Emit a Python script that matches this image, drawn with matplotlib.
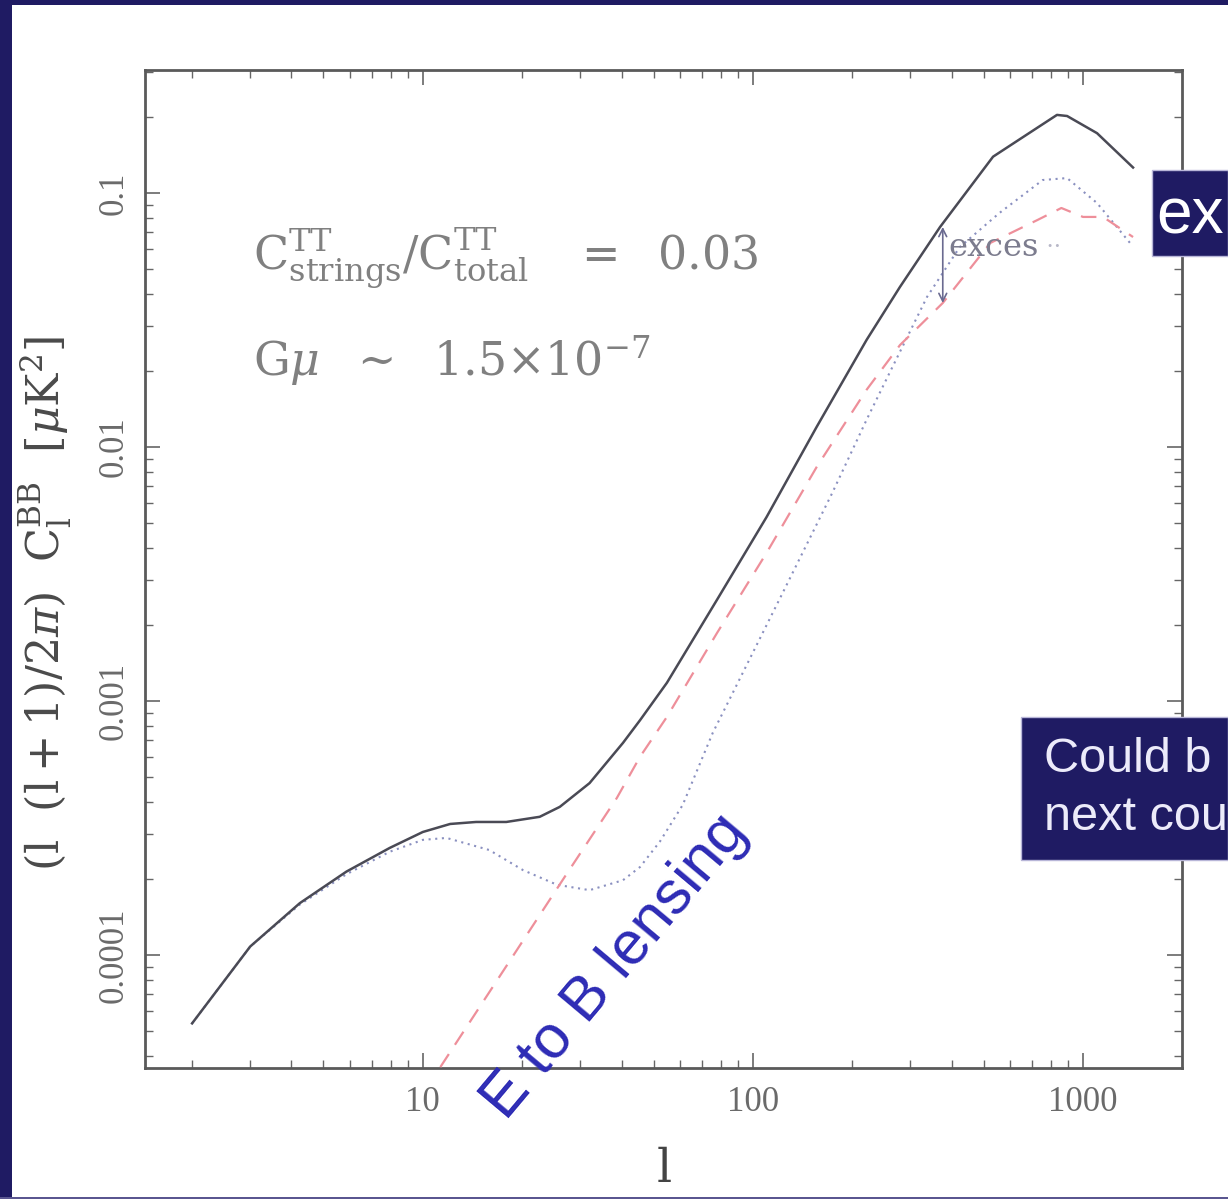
import numpy as np
import matplotlib
matplotlib.use("Agg")
import matplotlib.pyplot as plt
from matplotlib.patches import Rectangle
from matplotlib.ticker import FixedLocator, FixedFormatter, LogLocator, NullFormatter

plt.rcParams['mathtext.fontset'] = 'dejavuserif'
plt.rcParams['font.family'] = ['Liberation Serif', 'DejaVu Serif']

# ---------------- data ----------------
l_total = [2.0, 3.0, 4.24, 5.87, 7.94, 10.0, 12.1, 14.5, 17.9, 22.6, 26.0, 32.0, 40.4,
           45.5, 54.9, 77.8, 110, 156, 221, 279, 369, 534, 658, 834, 895, 1103, 1418]
c_total = [5.38e-5, 1.08e-4, 1.60e-4, 2.13e-4, 2.64e-4, 3.05e-4, 3.28e-4, 3.34e-4, 3.34e-4,
           3.50e-4, 3.83e-4, 4.75e-4, 6.84e-4, 8.4e-4, 1.18e-3, 2.5e-3, 5.3e-3,
           0.012, 0.0264, 0.0427, 0.0735, 0.139, 0.166, 0.203, 0.201, 0.172, 0.126]

l_strings = [2.0, 3.0, 4.24, 5.87, 7.94, 10.0, 11.8, 15.9, 20.1, 25.5, 32.0, 40.4,
             45.5, 52.3, 61.3, 75.6, 87, 123, 174, 221, 259, 337, 423, 558, 755, 895, 1103, 1388]
c_strings = [5.38e-5, 1.08e-4, 1.58e-4, 2.08e-4, 2.55e-4, 2.84e-4, 2.89e-4, 2.59e-4,
             2.16e-4, 1.89e-4, 1.80e-4, 1.97e-4, 2.22e-4, 2.80e-4, 3.9e-4, 7.5e-4,
             1.08e-3, 2.66e-3, 6.6e-3, 0.0128, 0.0195, 0.039, 0.0612, 0.0834, 0.1125,
             0.1145, 0.0913, 0.0636]

l_lensing = [11.3, 26.5, 38.7, 45.5, 54.9, 77.8, 110, 156, 221, 279, 376, 524,
             728, 860, 1000, 1150, 1418]
c_lensing = [3.62e-5, 1.97e-4, 4.15e-4, 6.03e-4, 8.66e-4, 1.85e-3, 3.83e-3, 8.34e-3,
             0.0168, 0.0252, 0.0369, 0.0636, 0.0783, 0.0873, 0.0805, 0.0805, 0.0671]

x_ticks = [10, 100, 1000]
x_ticklabels = ["10", "100", "1000"]
y_ticks = [1e-4, 1e-3, 1e-2, 1e-1]
y_ticklabels = ["0.0001", "0.001", "0.01", "0.1"]

excess_l = 376
excess_top = 0.0735
excess_bottom = 0.0369

# ---------------- figure ----------------
W, H = 1228, 1199
fig = plt.figure(figsize=(W / 100, H / 100), dpi=100)
fig.patch.set_facecolor('white')

navy = '#1f1b63'
fig.patches.append(Rectangle((0, 0), 12 / W, 1, transform=fig.transFigure,
                             facecolor=navy, edgecolor='none', zorder=0))
fig.patches.append(Rectangle((0, 1 - 5 / H), 1, 5 / H, transform=fig.transFigure,
                             facecolor=navy, edgecolor='none', zorder=0))
fig.patches.append(Rectangle((0, 0), 1, 2.5 / H, transform=fig.transFigure,
                             facecolor='#5a5690', edgecolor='none', zorder=0))

ax = fig.add_axes([145 / W, 1 - 1068 / H, (1182 - 145) / W, (1068 - 70) / H])
ax.set_xscale('log')
ax.set_yscale('log')
ax.set_xlim(1.44, 1995)
ax.set_ylim(3.59e-5, 0.305)

ax.plot(l_total, c_total, color='#4a4a55', lw=1.8, zorder=4, solid_joinstyle='round')
ax.plot(l_strings, c_strings, color='#8a90c0', lw=1.5, ls=(0, (1, 2.2)), zorder=3)
ax.plot(l_lensing, c_lensing, color='#ee8f9a', lw=1.6, ls=(0, (7, 5)), zorder=3)

# ticks
ax.xaxis.set_major_locator(FixedLocator(x_ticks))
ax.xaxis.set_major_formatter(FixedFormatter(x_ticklabels))
ax.xaxis.set_minor_locator(LogLocator(base=10, subs=np.arange(2, 10)))
ax.xaxis.set_minor_formatter(NullFormatter())
ax.yaxis.set_major_locator(FixedLocator(y_ticks))
ax.yaxis.set_major_formatter(FixedFormatter(y_ticklabels))
ax.yaxis.set_minor_locator(LogLocator(base=10, subs=np.arange(2, 10)))
ax.yaxis.set_minor_formatter(NullFormatter())

ax.tick_params(which='both', direction='in', top=True, right=True, color='#666666')
ax.tick_params(which='major', length=11, width=1.2, labelsize=25, labelcolor='#6a6a6a')
ax.tick_params(axis='x', which='major', pad=13)
ax.tick_params(axis='y', which='major', pad=10)
ax.tick_params(which='minor', length=5.5, width=1.0)
for lab in ax.get_yticklabels():
    lab.set_rotation(90)
    lab.set_va('center')
for sp in ax.spines.values():
    sp.set_color('#5a5a5a')
    sp.set_linewidth(2)

ax.set_xlabel(r'$\mathrm{l}$', fontsize=34, color='#444444', labelpad=22)
ax.set_ylabel(r'$(\mathrm{l}\ \ (\mathrm{l}+1)/2\pi)\ \ \mathrm{C}_{\mathrm{l}}^{\mathrm{BB}}\ \ [\mu\mathrm{K}^2]$',
              fontsize=32, color='#4a4a4a')
ax.yaxis.set_label_coords(-0.068, 0.465)

# annotations in the plot
ax.text(0.104, 0.811,
        r'$\mathrm{C}^{\mathrm{TT}}_{\mathrm{strings}}/\mathrm{C}^{\mathrm{TT}}_{\mathrm{total}}\ \ \ =\ \ 0.03$',
        transform=ax.transAxes, fontsize=33, color='#808080', va='center', ha='left')
ax.text(0.104, 0.709, r'$\mathrm{G}\mu\ \ \sim\ \ 1.5{\times}10^{-7}$',
        transform=ax.transAxes, fontsize=33, color='#808080', va='center', ha='left')

ax.annotate('', xy=(excess_l, excess_bottom), xytext=(excess_l, excess_top),
            arrowprops=dict(arrowstyle='<->', color='#6a6a90', lw=1.2,
                            shrinkA=0, shrinkB=0, mutation_scale=14), zorder=5)
ax.text(0.775, 0.822, 'exces', transform=ax.transAxes, fontsize=23,
        color='#7c7c8e', va='center', ha='left', family=['DejaVu Serif'])
ax.text(0.868, 0.822, '··', transform=ax.transAxes, fontsize=18,
        color='#b8b8c8', va='center', ha='left')

# "E to B lensing" slide overlay text
fig.text(616 / W, 1 - 967 / H, 'E to B lensing', fontsize=44, color='#2d2bb5',
         rotation=50, ha='center', va='center', family=['Liberation Sans', 'DejaVu Sans'],
         zorder=10)

# dark slide boxes on the right
fig.patches.append(Rectangle((1152 / W, 1 - 256 / H), (W - 1152) / W, 86 / H,
                             transform=fig.transFigure, facecolor=navy,
                             edgecolor='#b8b6d8', lw=1, zorder=9))
fig.text(1156 / W, 1 - 216 / H, 'ex', fontsize=46, color='white', ha='left', va='center',
         family=['Liberation Sans', 'DejaVu Sans'], zorder=11)

fig.patches.append(Rectangle((1021 / W, 1 - 860 / H), (W - 1021) / W, 143 / H,
                             transform=fig.transFigure, facecolor=navy,
                             edgecolor='#b8b6d8', lw=1, zorder=9))
fig.text(1044 / W, 1 - 760 / H, 'Could b', fontsize=35, color='#ecebfa', ha='left',
         va='center', family=['Liberation Sans', 'DejaVu Sans'], zorder=11)
fig.text(1044 / W, 1 - 818 / H, 'next cou', fontsize=35, color='#ecebfa', ha='left',
         va='center', family=['Liberation Sans', 'DejaVu Sans'], zorder=11)

fig.savefig('out.png', dpi=100)
